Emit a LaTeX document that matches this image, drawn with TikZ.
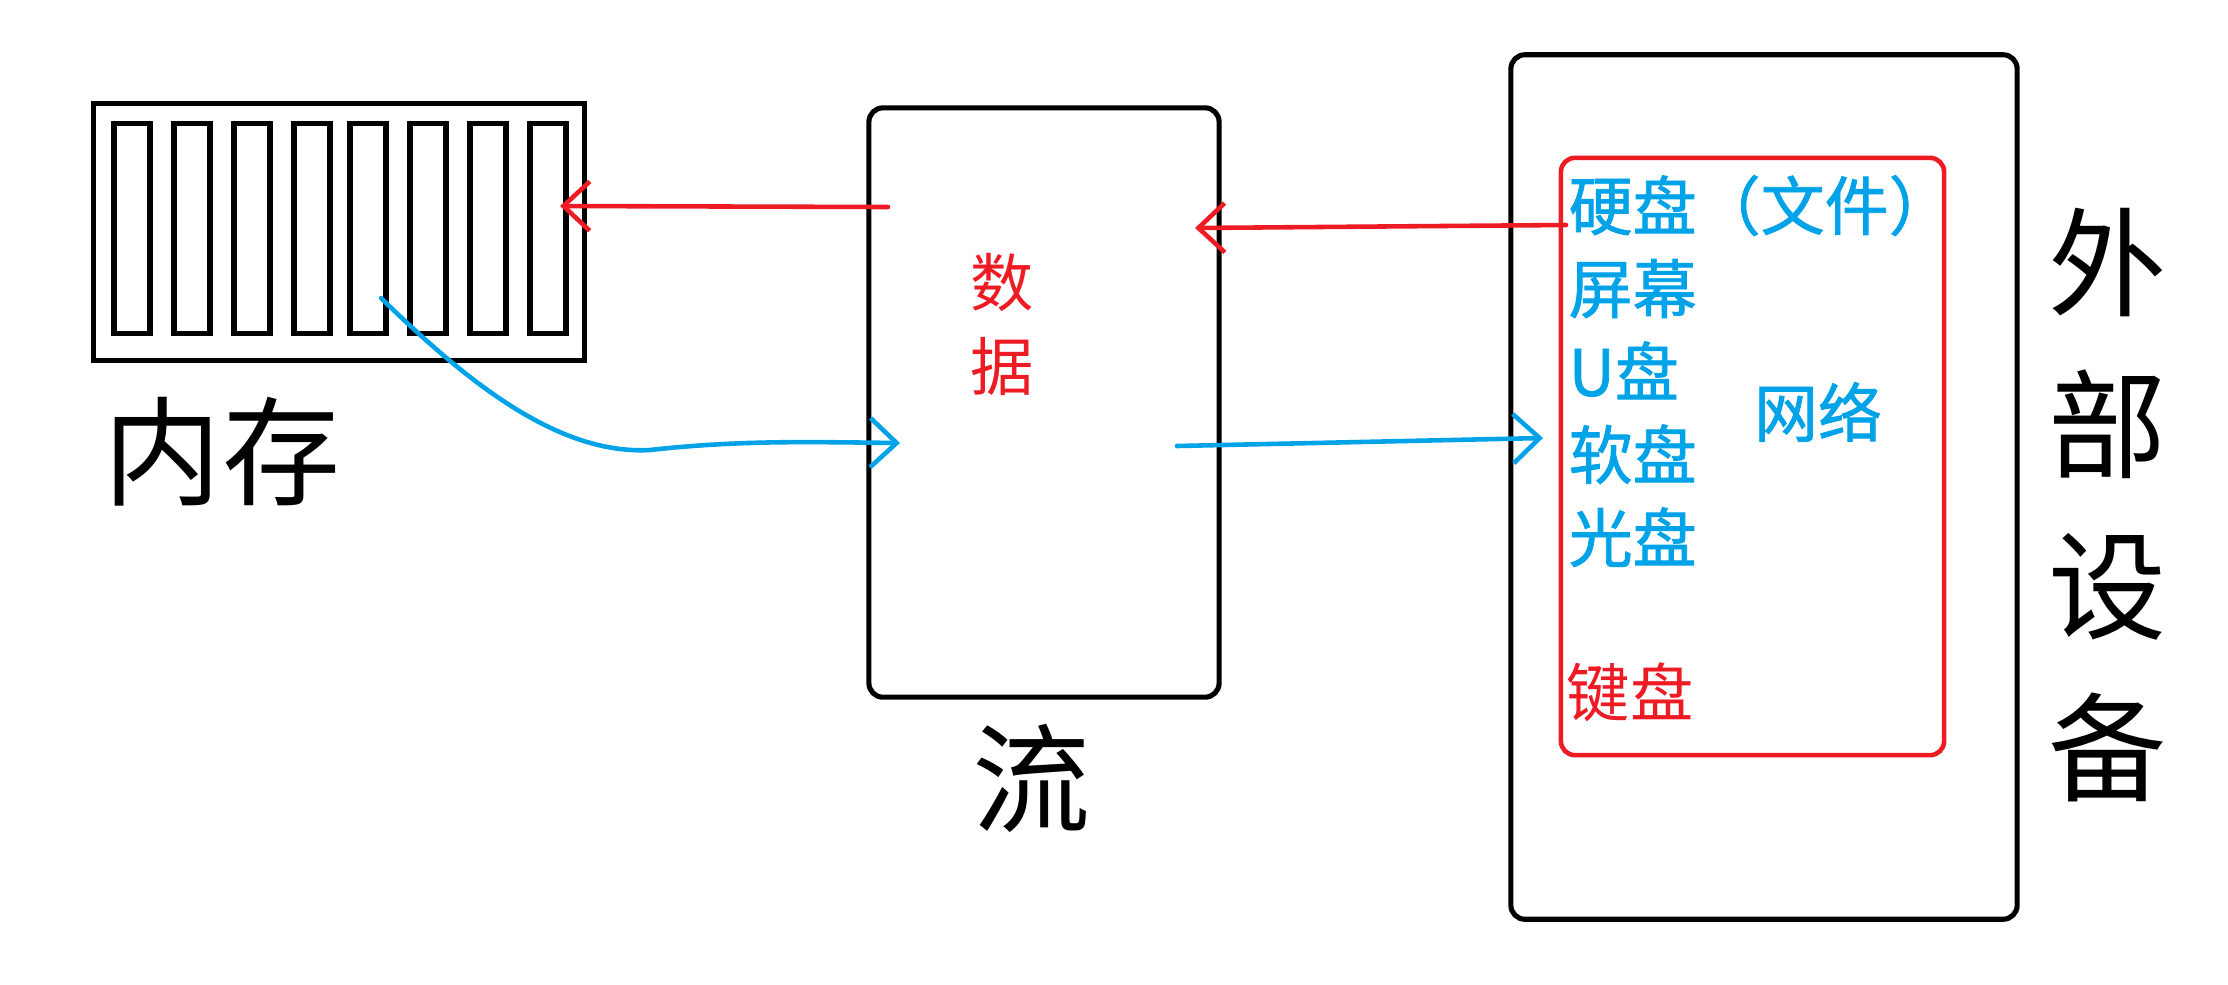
\documentclass[tikz,border=0pt]{standalone}
\usepackage{fontspec}
\usetikzlibrary{arrows.meta}
\newfontfamily\cjk{Noto Sans CJK SC}
\newfontfamily\cjkheavy[FakeBold=1.2]{Noto Sans CJK SC}
\definecolor{paintred}{HTML}{ED1C24}
\definecolor{paintblue}{HTML}{00A2E8}

\tikzset{
  frame/.style={draw=black, line width=1.45pt, inner sep=0pt},
  roundframe/.style={frame, rounded corners=4pt},
  memcell/.style={frame, minimum width=0.36cm, minimum height=2.09cm},
  bigtext/.style={inner sep=0pt, font=\cjk\fontsize{33.6}{46}\selectfont},
  redtext/.style={inner sep=0pt, text=paintred, font=\cjk\fontsize{18}{23.9}\selectfont},
  bluetext/.style={inner sep=0pt, text=paintblue, font=\cjkheavy\fontsize{18.2}{23.6}\selectfont},
  flow/.style={line width=1.3pt, line cap=round, line join=round,
    -{Straight Barb[length=7.5pt, width=14pt, line width=1.3pt]}},
  redflow/.style={flow, draw=paintred},
  blueflow/.style={flow, draw=paintblue},
}

\begin{document}
\begin{tikzpicture}[x=0.01cm, y=-0.01cm]
\useasboundingbox (0,0) rectangle (2228,984);

% memory block with its eight cells
\node[frame, minimum width=4.90cm, minimum height=2.56cm] (mem) at (339,232) {};
\foreach \x [count=\i] in {114,174,234,294,350,410,470,530}
  \node[memcell] (cell\i) at ({\x+18},228.5) {};
\node[bigtext] (memlabel) at (222,452) {内存};

% stream
\node[roundframe, minimum width=3.50cm, minimum height=5.89cm] (stream) at (1044,402.5) {};
\node[redtext, align=center] (data) at (1002,324) {数\\据};
\node[bigtext] (streamlabel) at (1032,778) {流};

% external devices
\node[roundframe, minimum width=5.06cm, minimum height=8.64cm] (ext) at (1764,487) {};
\node[draw=paintred, line width=1.3pt, rounded corners=4pt, inner sep=0pt,
      minimum width=3.83cm, minimum height=5.97cm] (devs) at (1752.5,456.5) {};
\node[bluetext, align=left, anchor=west] (devlist) at (1568,371)
  {硬盘（文件）\\屏幕\\U盘\\软盘\\光盘};
\node[bluetext] (net) at (1818,412) {网络};
\node[redtext, anchor=west] (keyboard) at (1566,692) {键盘};
\node[bigtext, align=center] (extlabel) at (2108,505) {外\\部\\设\\备};

% connector ends
\coordinate (diskout)   at (1566,225);
\coordinate (streamin)  at (1195,228);
\coordinate (streamout) at (888,207);
\coordinate (memin)     at (560,206);
\coordinate (cellout)   at (381,298);
\coordinate (streamin2) at (900,443);
\coordinate (streamout2) at (1177,446);
\coordinate (extin)     at (1543,438);

% input: device -> stream -> memory
\draw[redflow] (diskout) -- (streamin);
\draw[redflow] (streamout) -- (memin);

% output: memory -> stream -> device
\draw[blueflow] (cellout) .. controls (470,385) and (560,455) .. (650,450)
  .. controls (740,440) and (810,442) .. (streamin2);
\draw[blueflow] (streamout2) -- (extin);
\end{tikzpicture}
\end{document}
